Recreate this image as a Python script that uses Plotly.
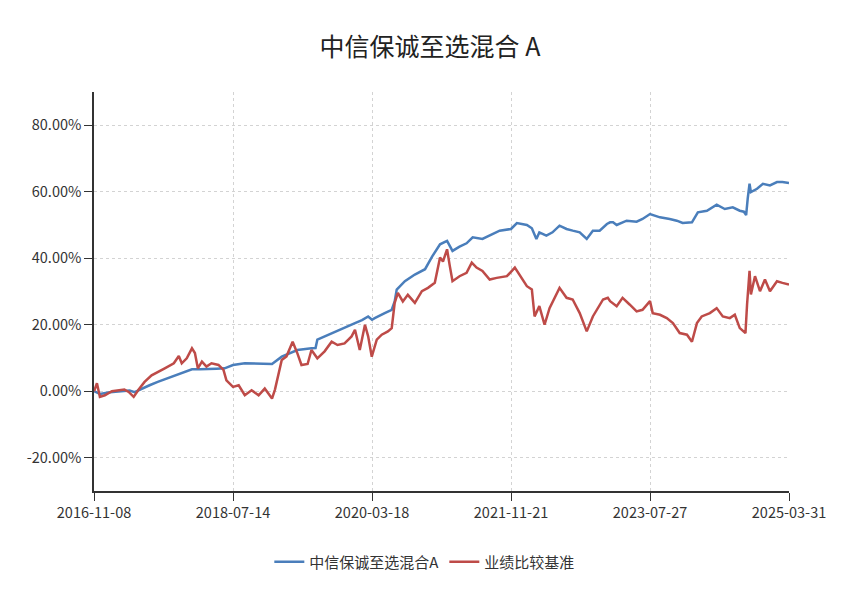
import plotly.graph_objects as go

title_text = "中信保诚至选混合 A"
fund_name = "中信保诚至选混合A"
bench_name = "业绩比较基准"

fund_dates = [
    "2016-11-08", "2016-12-04", "2017-01-17", "2017-03-01", "2017-04-14", "2017-05-06",
    "2017-06-06", "2017-07-11", "2017-08-16", "2017-09-25", "2017-10-30", "2017-12-05",
    "2018-01-14", "2018-02-18", "2018-03-23", "2018-05-02", "2018-06-07", "2018-07-14",
    "2018-09-04", "2018-10-18", "2018-12-01", "2019-01-02", "2019-02-14", "2019-03-20",
    "2019-04-24", "2019-06-25", "2019-07-13", "2019-07-21", "2019-08-22", "2019-09-22",
    "2019-10-27", "2019-12-02", "2020-01-03", "2020-02-03", "2020-03-01", "2020-03-18",
    "2020-03-30", "2020-05-13", "2020-06-13", "2020-06-26", "2020-07-05", "2020-08-10",
    "2020-09-23", "2020-11-07", "2020-12-08", "2021-01-12", "2021-02-12", "2021-03-08",
    "2021-04-08", "2021-05-09", "2021-06-05", "2021-07-18", "2021-08-19", "2021-10-02",
    "2021-11-21", "2021-12-17", "2022-01-30", "2022-02-21", "2022-03-13", "2022-03-26",
    "2022-04-26", "2022-05-23", "2022-06-23", "2022-07-24", "2022-08-20", "2022-09-20",
    "2022-10-21", "2022-11-17", "2022-12-17", "2023-01-18", "2023-02-01", "2023-02-14",
    "2023-03-02", "2023-04-15", "2023-05-29", "2023-06-24", "2023-07-27", "2023-09-09",
    "2023-10-22", "2023-11-22", "2023-12-18", "2024-01-28", "2024-02-23", "2024-04-03",
    "2024-05-16", "2024-06-21", "2024-07-26", "2024-08-26", "2024-09-13", "2024-09-23",
    "2024-09-30", "2024-10-08", "2024-10-14", "2024-11-10", "2024-12-06", "2025-01-06",
    "2025-02-06", "2025-03-02", "2025-03-31",
]
fund_values = [
    0.0, -0.8, -0.3, 0.0, 0.2, -0.3,
    0.8, 1.8, 2.8, 3.8, 4.8, 5.6,
    6.6, 6.6, 6.6, 6.8, 6.9, 7.9,
    8.4, 8.4, 8.4, 8.2, 10.4, 11.4,
    12.4, 12.9, 13.0, 15.5, 16.5, 17.5,
    18.5, 19.5, 20.5, 21.4, 22.5, 21.5,
    22.0, 23.5, 24.5, 27.0, 30.6, 33.1,
    35.1, 36.7, 40.5, 44.2, 45.2, 42.2,
    43.5, 44.5, 46.3, 45.8, 46.8, 48.3,
    48.8, 50.6, 50.0, 49.0, 45.8, 47.8,
    46.8, 47.8, 49.8, 48.8, 48.3, 47.8,
    45.8, 48.3, 48.3, 50.3, 50.8, 50.8,
    50.0, 51.3, 51.0, 51.8, 53.3, 52.3,
    51.8, 51.3, 50.6, 50.8, 53.8, 54.3,
    56.1, 54.8, 55.3, 54.3, 54.0, 53.0,
    58.0, 62.4, 59.9, 60.9, 62.4, 61.9,
    62.9, 62.9, 62.6,
]

bench_dates = [
    "2016-11-08", "2016-11-21", "2016-12-04", "2016-12-26", "2017-01-26", "2017-02-26",
    "2017-03-22", "2017-04-10", "2017-05-02", "2017-05-24", "2017-06-19", "2017-07-20",
    "2017-08-20", "2017-09-16", "2017-10-26", "2017-11-17", "2017-11-30", "2017-12-22",
    "2018-01-14", "2018-01-27", "2018-02-09", "2018-02-27", "2018-03-19", "2018-04-10",
    "2018-05-11", "2018-06-02", "2018-06-15", "2018-07-14", "2018-08-08", "2018-09-04",
    "2018-10-04", "2018-11-04", "2018-12-01", "2019-01-02", "2019-01-15", "2019-02-14",
    "2019-03-07", "2019-04-03", "2019-04-24", "2019-05-12", "2019-06-08", "2019-06-25",
    "2019-07-21", "2019-08-22", "2019-09-22", "2019-10-18", "2019-11-18", "2019-12-19",
    "2020-01-03", "2020-01-24", "2020-02-16", "2020-03-01", "2020-03-17", "2020-04-08",
    "2020-04-30", "2020-05-27", "2020-06-13", "2020-06-26", "2020-07-10", "2020-08-01",
    "2020-08-23", "2020-09-23", "2020-10-24", "2020-11-20", "2020-12-20", "2021-01-03",
    "2021-01-12", "2021-01-25", "2021-02-12", "2021-02-24", "2021-03-08", "2021-04-08",
    "2021-05-09", "2021-06-01", "2021-06-22", "2021-07-18", "2021-08-19", "2021-09-19",
    "2021-11-03", "2021-12-08", "2022-01-08", "2022-01-30", "2022-02-21", "2022-03-05",
    "2022-03-26", "2022-04-18", "2022-05-10", "2022-06-23", "2022-07-24", "2022-08-20",
    "2022-09-20", "2022-10-21", "2022-11-17", "2023-01-01", "2023-01-22", "2023-02-01",
    "2023-03-02", "2023-03-28", "2023-04-28", "2023-05-29", "2023-06-24", "2023-07-27",
    "2023-08-08", "2023-09-09", "2023-10-09", "2023-11-05", "2023-12-05", "2024-01-06",
    "2024-01-28", "2024-02-19", "2024-03-11", "2024-04-16", "2024-05-16", "2024-06-12",
    "2024-07-13", "2024-08-04", "2024-08-26", "2024-09-20", "2024-09-27", "2024-10-08",
    "2024-10-14", "2024-11-01", "2024-11-23", "2024-12-15", "2025-01-06", "2025-02-06",
    "2025-03-02", "2025-03-31",
]
bench_values = [
    0.0, 2.4, -1.7, -1.2, 0.0, 0.3,
    0.5, -0.2, -1.7, 0.5, 2.8, 4.8,
    5.8, 6.9, 8.4, 10.6, 8.4, 9.9,
    12.9, 11.5, 6.9, 8.9, 7.4, 8.4,
    7.9, 6.4, 3.3, 1.3, 1.8, -1.2,
    0.3, -1.2, 0.8, -2.2, 0.5, 9.4,
    10.5, 14.9, 11.4, 7.9, 8.2, 12.4,
    9.9, 12.0, 14.9, 13.9, 14.4, 16.5,
    18.5, 12.4, 20.0, 16.5, 10.4, 15.5,
    17.0, 18.0, 19.0, 26.6, 29.6, 27.0,
    29.0, 26.6, 30.1, 31.1, 32.6, 36.7,
    40.2, 39.0, 42.7, 37.7, 33.1, 34.6,
    35.6, 38.7, 37.2, 36.2, 33.6, 34.1,
    34.6, 37.2, 34.1, 31.6, 30.6, 22.5,
    25.6, 20.0, 25.0, 31.1, 28.1, 27.6,
    23.5, 18.0, 22.5, 27.6, 28.1, 27.1,
    25.6, 28.1, 26.1, 24.0, 24.5, 27.1,
    23.5, 23.0, 22.0, 20.5, 17.5, 17.0,
    14.9, 20.5, 22.5, 23.5, 25.0, 22.5,
    22.0, 23.0, 19.0, 17.5, 26.0, 36.2,
    29.1, 34.6, 30.1, 33.6, 30.1, 33.1,
    32.6, 32.1,
]

x_tick_dates = ["2016-11-08", "2018-07-14", "2020-03-18", "2021-11-21", "2023-07-27", "2025-03-31"]
y_tick_values = [-20, 0, 20, 40, 60, 80]
y_tick_labels = ["-20.00%", "0.00%", "20.00%", "40.00%", "60.00%", "80.00%"]

font_family = "Noto Sans CJK SC, Noto Sans, sans-serif"

fig = go.Figure()
fig.add_trace(go.Scatter(x=fund_dates, y=fund_values, mode="lines", name=fund_name,
                         line=dict(color="#4a7ebb", width=2.5)))
fig.add_trace(go.Scatter(x=bench_dates, y=bench_values, mode="lines", name=bench_name,
                         line=dict(color="#be4b48", width=2.5)))

fig.update_layout(
    width=863, height=598,
    margin=dict(l=86, r=82, t=84, b=115),
    paper_bgcolor="white", plot_bgcolor="white",
    font=dict(family=font_family, size=14, color="#333333"),
    title=dict(text=title_text, x=0.489, xanchor="center", y=0.935, yanchor="middle",
               font=dict(size=25, color="#222222", family=font_family)),
    showlegend=True,
    legend=dict(orientation="h", x=0.476, xanchor="center", y=-0.178, yanchor="middle",
                font=dict(size=15, color="#333333"), bgcolor="rgba(0,0,0,0)"),
    xaxis=dict(
        type="date", range=["2016-11-08", "2025-03-31"],
        tickvals=x_tick_dates, ticktext=x_tick_dates,
        showgrid=True, gridcolor="#d3d3d3", griddash="3px,3px", gridwidth=1,
        showline=True, linecolor="#333333", linewidth=1.5,
        ticks="outside", ticklen=8, tickcolor="#333333",
        zeroline=False, tickfont=dict(size=14.5, color="#333333"),
    ),
    yaxis=dict(
        range=[-30, 90],
        tickvals=y_tick_values, ticktext=y_tick_labels,
        showgrid=True, gridcolor="#d3d3d3", griddash="3px,3px", gridwidth=1,
        showline=True, linecolor="#333333", linewidth=1.5,
        ticks="outside", ticklen=8, tickcolor="#333333",
        zeroline=False, tickfont=dict(size=14.5, color="#333333"),
    ),
)

fig.write_html("out.html")
